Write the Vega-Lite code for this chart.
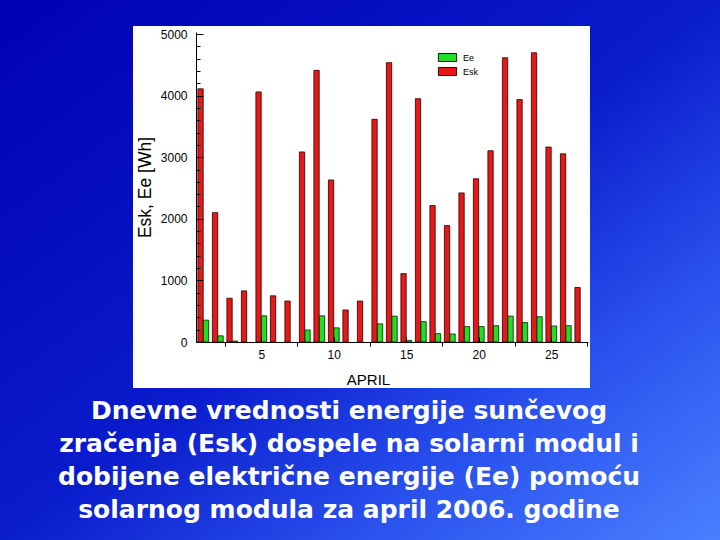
{
  "$schema": "https://vega.github.io/schema/vega-lite/v6.json",
  "width": 392,
  "height": 310,
  "autosize": {"type": "none"},
  "padding": {"left": 196, "top": 32, "right": 132, "bottom": 198},
  "background": "#1030d0",
  "config": {
    "view": {"stroke": null},
    "axis": {
      "grid": false,
      "domainColor": "black",
      "tickColor": "black",
      "labelColor": "black",
      "titleColor": "black",
      "labelFont": "Liberation Sans",
      "titleFont": "Liberation Sans",
      "titleFontWeight": "normal",
      "labelFontSize": 12,
      "titleFontSize": 15,
      "labelOverlap": false,
      "labelFlush": false
    }
  },
  "title": {
    "text": [
      "Dnevne vrednosti energije sunčevog",
      "zračenja (Esk) dospele na solarni modul i",
      "dobijene električne energije (Ee) pomoću",
      "solarnog modula za april 2006. godine"
    ],
    "orient": "bottom",
    "anchor": "middle",
    "frame": "group",
    "dx": -43,
    "offset": -121,
    "font": "DejaVu Sans",
    "fontSize": 25,
    "fontWeight": "bold",
    "color": "white",
    "lineHeight": 33,
    "baseline": "alphabetic",
    "zindex": 1
  },
  "datasets": {
    "energy": [
      {"day": 1, "series": "Esk", "value": 4110},
      {"day": 2, "series": "Esk", "value": 2100},
      {"day": 3, "series": "Esk", "value": 710},
      {"day": 4, "series": "Esk", "value": 830},
      {"day": 5, "series": "Esk", "value": 4060},
      {"day": 6, "series": "Esk", "value": 750},
      {"day": 7, "series": "Esk", "value": 665},
      {"day": 8, "series": "Esk", "value": 3085},
      {"day": 9, "series": "Esk", "value": 4410},
      {"day": 10, "series": "Esk", "value": 2630},
      {"day": 11, "series": "Esk", "value": 520},
      {"day": 12, "series": "Esk", "value": 665},
      {"day": 13, "series": "Esk", "value": 3615},
      {"day": 14, "series": "Esk", "value": 4535},
      {"day": 15, "series": "Esk", "value": 1110},
      {"day": 16, "series": "Esk", "value": 3950},
      {"day": 17, "series": "Esk", "value": 2215},
      {"day": 18, "series": "Esk", "value": 1890},
      {"day": 19, "series": "Esk", "value": 2420},
      {"day": 20, "series": "Esk", "value": 2650},
      {"day": 21, "series": "Esk", "value": 3105},
      {"day": 22, "series": "Esk", "value": 4615},
      {"day": 23, "series": "Esk", "value": 3935},
      {"day": 24, "series": "Esk", "value": 4695},
      {"day": 25, "series": "Esk", "value": 3165},
      {"day": 26, "series": "Esk", "value": 3055},
      {"day": 27, "series": "Esk", "value": 885},
      {"day": 1, "series": "Ee", "value": 355},
      {"day": 2, "series": "Ee", "value": 100},
      {"day": 3, "series": "Ee", "value": 15},
      {"day": 5, "series": "Ee", "value": 425},
      {"day": 8, "series": "Ee", "value": 195},
      {"day": 9, "series": "Ee", "value": 425},
      {"day": 10, "series": "Ee", "value": 230},
      {"day": 13, "series": "Ee", "value": 295},
      {"day": 14, "series": "Ee", "value": 420},
      {"day": 15, "series": "Ee", "value": 25},
      {"day": 16, "series": "Ee", "value": 330},
      {"day": 17, "series": "Ee", "value": 135},
      {"day": 18, "series": "Ee", "value": 130},
      {"day": 19, "series": "Ee", "value": 250},
      {"day": 20, "series": "Ee", "value": 250},
      {"day": 21, "series": "Ee", "value": 265},
      {"day": 22, "series": "Ee", "value": 420},
      {"day": 23, "series": "Ee", "value": 315},
      {"day": 24, "series": "Ee", "value": 410},
      {"day": 25, "series": "Ee", "value": 260},
      {"day": 26, "series": "Ee", "value": 265}
    ]
  },
  "layer": [
    {
      "data": {"values": [{}]},
      "mark": {
        "type": "rect",
        "clip": false,
        "fill": {
          "gradient": "linear",
          "x1": 0, "y1": 0, "x2": 1, "y2": 1,
          "stops": [
            {"offset": 0, "color": "#0000b4"},
            {"offset": 0.5, "color": "#0a1ccc"},
            {"offset": 0.75, "color": "#2a52ee"},
            {"offset": 1, "color": "#4a80ff"}
          ]
        }
      },
      "encoding": {
        "x": {
          "datum": -13.0172, "type": "quantitative",
          "scale": {"domain": [0.5, 27.5345], "nice": false, "zero": false, "padding": 0},
          "axis": {
            "zindex": 1,
            "title": "APRIL",
            "values": [2.5, 5, 7.5, 10, 12.5, 15, 17.5, 20, 22.5, 25, 27.5],
            "tickCount": 100,
            "format": "d",
            "labelExpr": "datum.value % 5 === 0 ? datum.label : ''",
            "tickSize": {"condition": {"test": "datum.value % 5 === 0", "value": -5}, "value": 4},
            "labelPadding": 12.5,
            "titleX": 172,
            "titleY": 42,
            "titleAlign": "center",
            "titleBaseline": "alphabetic"
          }
        },
        "x2": {"datum": 36.6379},
        "y": {
          "datum": 5552, "type": "quantitative",
          "scale": {"domain": [0, 5032.5], "nice": false, "zero": false, "padding": 0},
          "axis": {
            "zindex": 1,
            "title": "Esk, Ee [Wh]",
            "titleFontSize": 17.5,
            "values": [0, 200, 400, 600, 800, 1000, 1200, 1400, 1600, 1800, 2000, 2200, 2400, 2600, 2800, 3000, 3200, 3400, 3600, 3800, 4000, 4200, 4400, 4600, 4800, 5000],
            "tickCount": 100,
            "format": "d",
            "labelExpr": "datum.value % 1000 === 0 ? datum.label : ''",
            "tickSize": {"condition": {"test": "datum.value % 1000 === 0", "value": -7}, "value": -4},
            "labelPadding": 16,
            "titleAngle": 270,
            "titleX": -46,
            "titleY": 155,
            "titleAlign": "center",
            "titleBaseline": "alphabetic"
          }
        },
        "y2": {"datum": -3214.3}
      }
    },
    {
      "data": {"values": [{}]},
      "mark": {"type": "rect", "clip": false, "fill": "white"},
      "encoding": {
        "x": {"datum": -3.8448, "type": "quantitative"},
        "x2": {"datum": 27.6724},
        "y": {"datum": 5130, "type": "quantitative"},
        "y2": {"datum": -746.8}
      }
    },
    {
      "data": {"name": "energy"},
      "transform": [{"filter": "datum.series === 'Esk'"}],
      "mark": {"type": "bar", "width": 5.3, "xOffset": -2.7, "stroke": "#220000", "strokeWidth": 0.8, "clip": false},
      "encoding": {
        "x": {"field": "day", "type": "quantitative"},
        "y": {"field": "value", "type": "quantitative"},
        "color": {
          "field": "series", "type": "nominal",
          "scale": {"domain": ["Ee", "Esk"], "range": ["#22dd22", "#e81818"]},
          "legend": {
            "title": null,
            "orient": "none",
            "legendX": 245,
            "legendY": 19,
            "symbolType": "M-1.52,-0.67H1.52V0.67H-1.52Z",
            "symbolSize": 144,
            "symbolStrokeColor": "black",
            "symbolStrokeWidth": 1,
            "symbolOpacity": 1,
            "labelFont": "Liberation Sans",
            "labelFontSize": 9,
            "labelColor": "black",
            "labelOffset": 9,
            "rowPadding": 1,
            "padding": 0
          }
        }
      }
    },
    {
      "data": {"name": "energy"},
      "transform": [{"filter": "datum.series === 'Ee'"}],
      "mark": {"type": "bar", "width": 5.3, "xOffset": 2.8, "stroke": "#002200", "strokeWidth": 0.8, "clip": false},
      "encoding": {
        "x": {"field": "day", "type": "quantitative"},
        "y": {"field": "value", "type": "quantitative"},
        "color": {"field": "series", "type": "nominal"}
      }
    }
  ]
}
